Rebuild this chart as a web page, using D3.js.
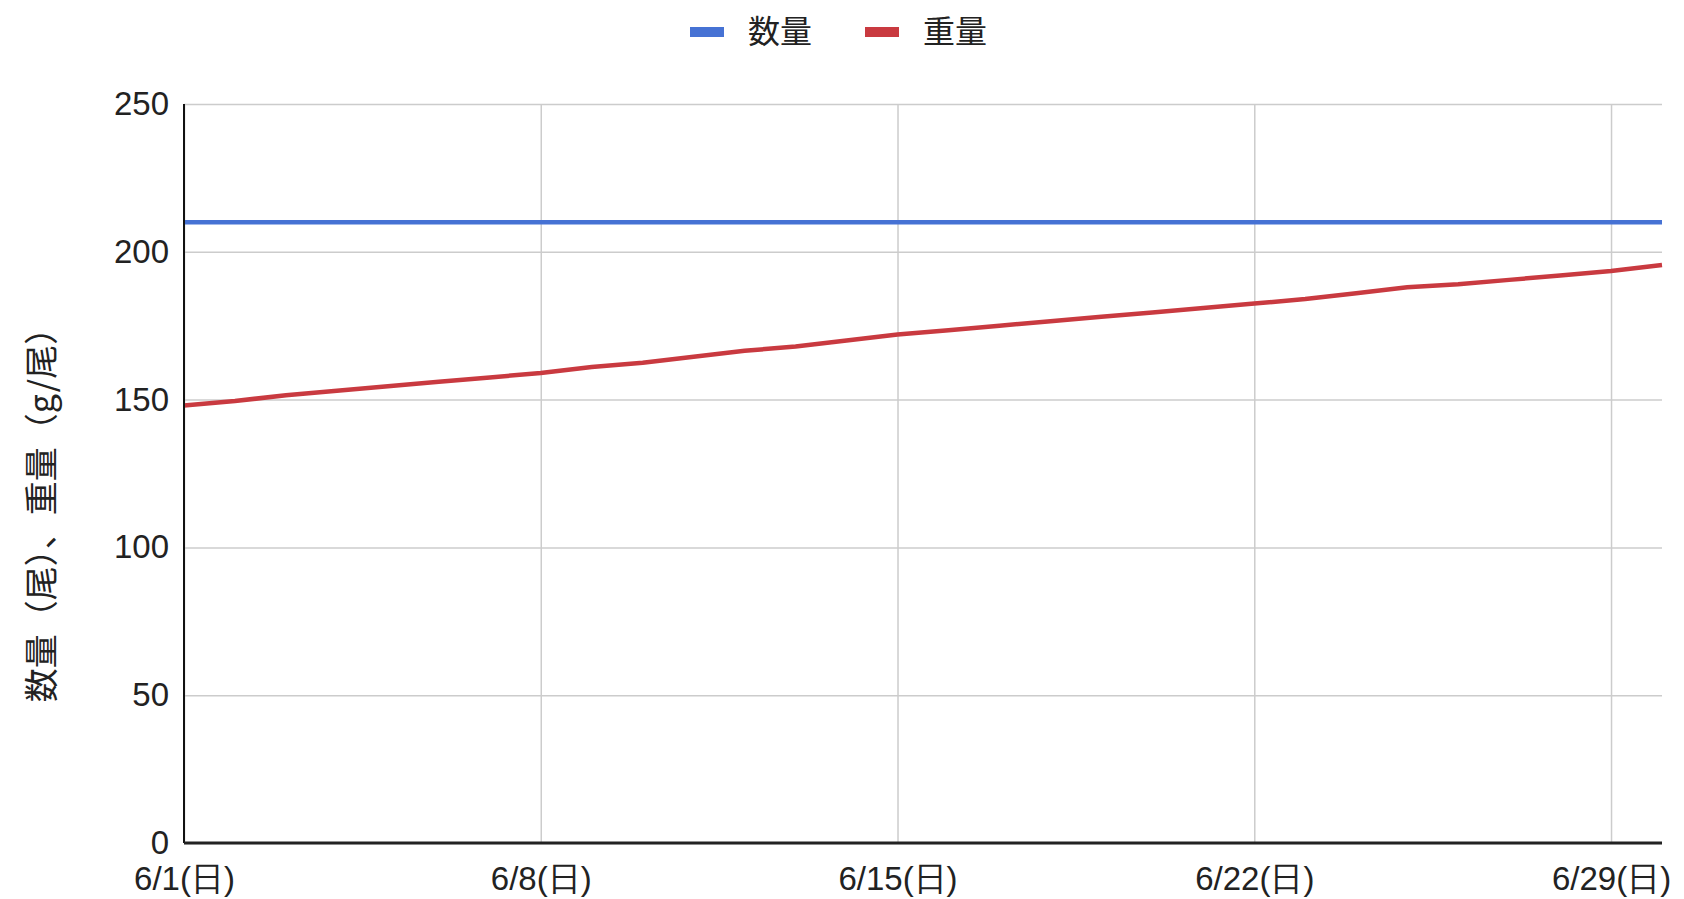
<!DOCTYPE html>
<html>
<head>
<meta charset="utf-8">
<script src="https://cdn.jsdelivr.net/npm/d3@7"></script>
<style>
    body { margin: 0; background: #fff; }
    svg { display: block; }
    .grid line { stroke: #cccccc; stroke-width: 1.5; }
    .grid path { display: none; }
    .axis text { font-family: "Liberation Sans", Arial, sans-serif; fill: #222; }
    .axis path, .axis line { display: none; }
</style>
</head>
<body>
<svg id="chart"></svg>
<script>
// data
const days = d3.range(1, 31);
const countValues = days.map(() => 210);
const weightValues = [
    148, 149.5, 151.5, 153, 154.5, 156, 157.5, 159, 161, 162.5,
    164.5, 166.5, 168, 170, 172, 173.5, 175, 176.5, 178, 179.5,
    181, 182.5, 184, 186, 188, 189, 190.5, 192, 193.5, 195.5
];
const xTickDays = [1, 8, 15, 22, 29];
const yTicks = [0, 50, 100, 150, 200, 250];
const seriesNames = ['数量', '重量'];
const seriesColors = ['#4672d4', '#c93a40'];

const W = 1684, H = 899;
const margin = {top: 104, right: 22, bottom: 56, left: 184};
const width = W - margin.left - margin.right;
const height = H - margin.top - margin.bottom;

const root = d3.select('#chart').attr('width', W).attr('height', H);
const svg = root.append('g')
    .attr('transform', `translate(${margin.left},${margin.top})`);

const x = d3.scaleLinear().domain([1, 30]).range([0, width]);
const y = d3.scaleLinear().domain([0, 250]).range([height, 0]);

// grid lines
svg.append('g')
    .attr('class', 'grid')
    .call(d3.axisLeft(y).tickValues(yTicks).tickSize(-width).tickFormat(''));

svg.append('g')
    .attr('class', 'grid')
    .attr('transform', `translate(0,${height})`)
    .call(d3.axisBottom(x).tickValues(xTickDays).tickSize(-height).tickFormat(''));

// lines
const line = d3.line().x((d, i) => x(days[i])).y(d => y(d));
[countValues, weightValues].forEach((vals, i) => {
    svg.append('path')
        .datum(vals)
        .attr('fill', 'none')
        .attr('stroke', seriesColors[i])
        .attr('stroke-width', 4.5)
        .attr('d', line);
});

// axis lines
svg.append('line')
    .attr('x1', 0).attr('x2', 0).attr('y1', y(250)).attr('y2', height)
    .attr('stroke', '#111').attr('stroke-width', 2);
svg.append('line')
    .attr('x1', 0).attr('x2', width).attr('y1', height).attr('y2', height)
    .attr('stroke', '#222').attr('stroke-width', 3);

// Y axis
svg.append('g')
    .attr('class', 'axis')
    .call(d3.axisLeft(y).tickValues(yTicks).tickSize(0).tickPadding(15))
    .selectAll('text')
    .style('font-size', '33px');

// X axis
svg.append('g')
    .attr('class', 'axis')
    .attr('transform', `translate(0,${height})`)
    .call(d3.axisBottom(x).tickValues(xTickDays).tickSize(0).tickPadding(24)
        .tickFormat(d => `6/${d}(日)`))
    .selectAll('text')
    .style('font-size', '33px');

// Y axis label
root.append('text')
    .attr('transform', `translate(54,${margin.top + height / 2 + 33}) rotate(-90)`)
    .attr('text-anchor', 'middle')
    .style('font-family', '"Noto Sans CJK JP", sans-serif')
    .style('font-size', '34px')
    .style('fill', '#222')
    .text('数量（尾）、重量（g/尾）');

// legend
const legend = root.append('g').attr('transform', 'translate(690,32)');
const legendX = [0, 175];
seriesNames.forEach((name, i) => {
    const g = legend.append('g').attr('transform', `translate(${legendX[i]},0)`);
    g.append('rect')
        .attr('x', 0).attr('y', -5).attr('width', 34).attr('height', 10)
        .attr('fill', seriesColors[i]);
    g.append('text')
        .attr('x', 58).attr('y', 11)
        .style('font-family', '"Noto Sans CJK JP", sans-serif')
        .style('font-size', '32px')
        .style('fill', '#222')
        .text(name);
});
</script>
</body>
</html>
